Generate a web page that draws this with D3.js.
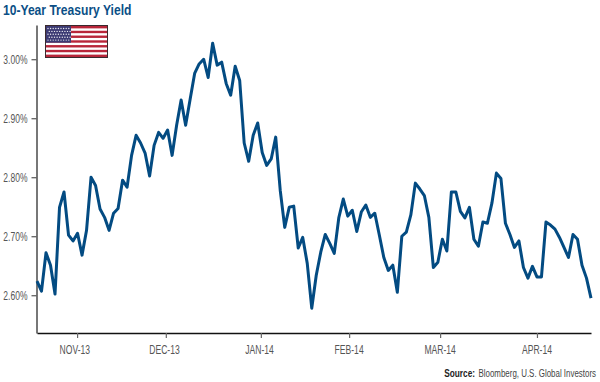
<!DOCTYPE html>
<html>
<head>
<meta charset="utf-8">
<script src="https://cdnjs.cloudflare.com/ajax/libs/d3/7.8.5/d3.min.js"></script>
<style>
  html, body { margin: 0; padding: 0; background: #fff; }
  svg { display: block; }
  text { font-family: "Liberation Sans", sans-serif; }
</style>
</head>
<body>
<div id="chart"></div>
<script>
// daily yield readings (%), one per trading day
const yields = [
  2.624, 2.607, 2.672, 2.651, 2.602, 2.749, 2.775, 2.702, 2.692, 2.705,
  2.668, 2.710, 2.800, 2.786, 2.746, 2.732, 2.710, 2.739, 2.747, 2.795,
  2.783, 2.837, 2.871, 2.858, 2.841, 2.802, 2.854, 2.876, 2.866, 2.880,
  2.837, 2.888, 2.931, 2.888, 2.932, 2.976, 2.992, 3.000, 2.969, 3.027,
  2.990, 2.995, 2.959, 2.939, 2.988, 2.964, 2.858, 2.827, 2.871, 2.892,
  2.842, 2.820, 2.831, 2.868, 2.778, 2.715, 2.749, 2.751, 2.680, 2.698,
  2.654, 2.578, 2.634, 2.673, 2.703, 2.688, 2.671, 2.731, 2.763, 2.734,
  2.744, 2.708, 2.741, 2.753, 2.732, 2.739, 2.702, 2.664, 2.642, 2.651,
  2.605, 2.700, 2.707, 2.736, 2.790, 2.780, 2.769, 2.732, 2.647, 2.656,
  2.695, 2.675, 2.775, 2.775, 2.742, 2.731, 2.749, 2.695, 2.683, 2.724,
  2.722, 2.756, 2.807, 2.798, 2.722, 2.703, 2.681, 2.692, 2.647, 2.629,
  2.649, 2.631, 2.631, 2.724, 2.719, 2.712, 2.698, 2.681, 2.664, 2.703,
  2.695, 2.651, 2.629, 2.595
];
const yTicks = [2.6, 2.7, 2.8, 2.9, 3.0];
// month starts, as positions along the trading days
const monthTicks = [8.9, 28.6, 49.7, 69.3, 89.5, 111];
const monthLabelPos = [8.4, 28.3, 49.4, 69.3, 89.5, 111];
const monthLabels = ["NOV-13", "DEC-13", "JAN-14", "FEB-14", "MAR-14", "APR-14"];

const width = 600;
const height = 382;
const margin = {top: 25, right: 9, bottom: 49, left: 37};
const blue = "#034b82";

const svg = d3.select("#chart")
  .append("svg")
  .attr("width", width)
  .attr("height", height)
  .attr("viewBox", `0 0 ${width} ${height}`);

const xScale = d3.scaleLinear()
  .domain([0, yields.length - 1])
  .range([margin.left, width - margin.right]);

const yScale = d3.scaleLinear()
  .domain([2.536, 3.058])
  .range([height - margin.bottom, margin.top]);

// no narrow font installed, so squeeze the glyphs to the original's widths
const narrow = (sel, factor) => sel.each(function () {
  const t = d3.select(this);
  const x = +t.attr("x") || 0;
  const y = +t.attr("y") || 0;
  t.attr("x", 0)
    .attr("y", 0)
    .attr("transform", `translate(${x},${y}) scale(${factor},1)`);
});

svg.append("text")
  .attr("x", 3)
  .attr("y", 14.5)
  .attr("font-size", "14.5px")
  .attr("font-weight", "bold")
  .attr("fill", "#0b4f86")
  .text("10-Year Treasury Yield")
  .call(narrow, 0.835);

// y axis
const leftAxis = d3.axisLeft(yScale)
  .tickValues(yTicks)
  .tickFormat(d => d3.format(".2f")(d) + "%")
  .tickSize(5)
  .tickSizeOuter(0)
  .tickPadding(4);
const yAxis = svg.append("g")
  .attr("transform", `translate(${margin.left - 0.5},0)`)
  .call(leftAxis);
yAxis.select(".domain").attr("stroke", "#555").attr("stroke-width", 1.6);
yAxis.selectAll(".tick line").attr("stroke", "#555").attr("stroke-width", 1.2);
yAxis.selectAll("text")
  .attr("font-family", null)
  .attr("font-size", "12px")
  .attr("fill", "#555")
  .call(narrow, 0.71);

// x axis, tick marks and labels sit at slightly different spots in the original
const bottomAxis = d3.axisBottom(xScale)
  .tickValues(monthTicks)
  .tickFormat("")
  .tickSize(5)
  .tickSizeOuter(0);
const xAxis = svg.append("g")
  .attr("transform", `translate(0,${height - margin.bottom})`)
  .call(bottomAxis);
xAxis.select(".domain").attr("stroke", "#111").attr("stroke-width", 1.6);
xAxis.selectAll(".tick line").attr("stroke", "#666").attr("stroke-width", 1.2);

svg.selectAll("text.month")
  .data(monthLabels)
  .join("text")
    .attr("class", "month")
    .attr("x", (d, i) => xScale(monthLabelPos[i]))
    .attr("y", height - margin.bottom + 21)
    .attr("text-anchor", "middle")
    .attr("font-size", "12px")
    .attr("fill", "#555")
    .text(d => d)
    .call(narrow, 0.715);

// flag
const flag = svg.append("g").attr("transform", "translate(45,25)");
const flagW = 63;
const flagH = 33;
const stripeH = (flagH - 2) / 13;
flag.append("rect")
  .attr("width", flagW)
  .attr("height", flagH)
  .attr("fill", "#fff");
flag.selectAll("rect.stripe")
  .data(d3.range(0, 13, 2))
  .join("rect")
    .attr("class", "stripe")
    .attr("x", 1)
    .attr("y", d => 1 + d * stripeH)
    .attr("width", flagW - 2)
    .attr("height", stripeH)
    .attr("fill", "#b8263a");
flag.append("rect")
  .attr("x", 1)
  .attr("y", 1)
  .attr("width", 25)
  .attr("height", stripeH * 7)
  .attr("fill", "#3d3b74");
flag.selectAll("circle")
  .data(d3.cross(d3.range(9), d3.range(5)))
  .join("circle")
    .attr("cx", d => 3 + d[0] * 2.6 + (d[1] % 2) * 1.3)
    .attr("cy", d => 3.5 + d[1] * 2.9)
    .attr("r", 0.7)
    .attr("fill", "#e8e8f0");
flag.append("rect")
  .attr("x", 0.5)
  .attr("y", 0.5)
  .attr("width", flagW - 1)
  .attr("height", flagH - 1)
  .attr("fill", "none")
  .attr("stroke", "#3a2a2e");

// yield line
const line = d3.line()
  .x((d, i) => xScale(i))
  .y(d => yScale(d));
svg.append("path")
  .datum(yields)
  .attr("fill", "none")
  .attr("stroke", blue)
  .attr("stroke-width", 3)
  .attr("stroke-linejoin", "round")
  .attr("d", line);

// source, two pieces so each can be squeezed to its own width
svg.append("text")
  .attr("x", 475)
  .attr("y", 377)
  .attr("text-anchor", "end")
  .attr("font-size", "11.5px")
  .attr("font-weight", "bold")
  .attr("fill", "#222")
  .text("Source:")
  .call(narrow, 0.72);
svg.append("text")
  .attr("x", 596)
  .attr("y", 377)
  .attr("text-anchor", "end")
  .attr("font-size", "11.5px")
  .attr("fill", "#444")
  .text("Bloomberg, U.S. Global Investors")
  .call(narrow, 0.69);
</script>
</body>
</html>
